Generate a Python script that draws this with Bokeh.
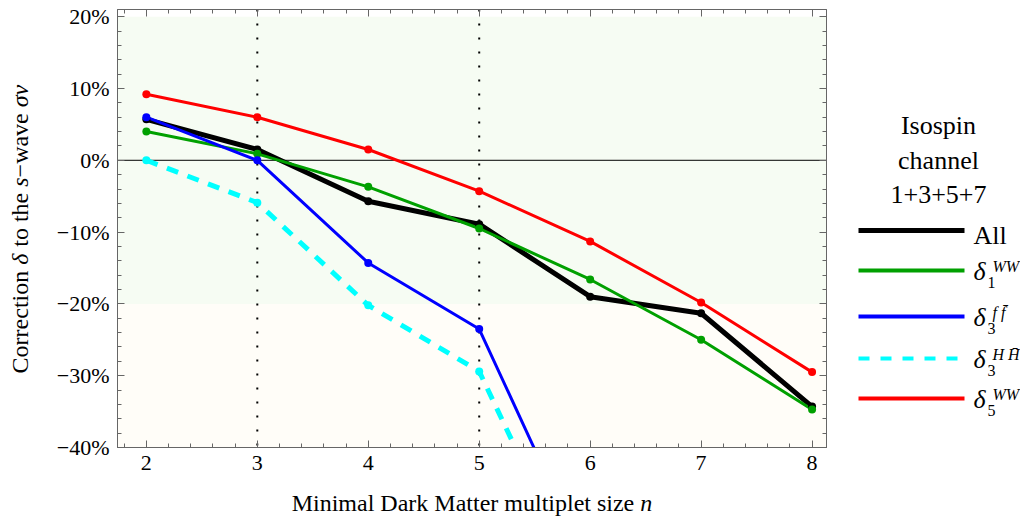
from math import pi
from bokeh.plotting import figure
from bokeh.models import Range1d, LinearAxis, BoxAnnotation, Span, FixedTicker
from bokeh.layouts import row, column
from bokeh.embed import file_html
from bokeh.resources import INLINE
from bokeh.core.properties import value

# ---------------- data ----------------
n_full = [2, 3, 4, 5, 6, 7, 8]
n_short = [2, 3, 4, 5, 6]
all_channels = [5.7, 1.5, -5.7, -8.9, -19.0, -21.3, -34.3]
delta1_WW = [4.0, 0.9, -3.7, -9.5, -16.6, -25.0, -34.7]
delta3_ff = [6.0, 0.0, -14.3, -23.5, -57.0]
delta3_HH = [0.0, -5.9, -20.2, -29.4, -62.0]
delta5_WW = [9.2, 6.0, 1.5, -4.3, -11.3, -19.8, -29.5]

x_ticks = [2, 3, 4, 5, 6, 7, 8]
y_ticks = [-40, -30, -20, -10, 0, 10, 20]
y_tick_labels = ["\u221240%", "\u221230%", "\u221220%", "\u221210%", "0%", "10%", "20%"]
threshold_n = [3, 5]

legend_title = ["Isospin", "channel", "1+3+5+7"]
legend_base = ["All", "\u03b4", "\u03b4", "\u03b4", "\u03b4"]
legend_sub = ["", "1", "3", "3", "5"]
legend_sup = ["", "WW", "f f\u0304", "H H\u0304", "WW"]

ylab_runs = ["Correction", "\u03b4", "to the", "s", "\u2212wave", "\u03c3v"]
ylab_italic = [False, True, False, True, False, True]
ylab_space = [True, True, True, False, True, False]
xlab_runs = ["Minimal Dark Matter multiplet size", "n"]
xlab_italic = [False, True]
xlab_space = [True, False]

# ---------------- layout / styling ----------------
FONT = "Liberation Serif"
W_TOT = 1020
W_YL, W_MAIN = 40, 788
W_LEG = W_TOT - W_YL - W_MAIN
H_TOP, H_XL = 484, 38
XR = (1.74, 8.13)
YR = (-40.0, 21.0)
FL, FT, FR, FB = 117, 9, 826, 447   # frame edges in page pixels
FRAME_COL = "#666666"

series = [
    (n_full, all_channels, "#000000", 5, "solid"),
    (n_full, delta1_WW, "#00a000", 3, "solid"),
    (n_short, delta3_ff, "#0000ff", 3, "solid"),
    (n_short, delta3_HH, "#00ffff", 5, "12 10"),
    (n_full, delta5_WW, "#ff0000", 3, "solid"),
]
legend_widths = [5, 4, 4, 4, 4]
legend_dash = ["solid", "solid", "solid", "11 11", "solid"]

# Times metrics (1/1000 em)
REG = {' ': 250, 'C': 667, 'o': 500, 'r': 333, 'e': 444, 'c': 444, 't': 278, 'i': 278,
       'n': 500, 'h': 500, 'w': 722, 'a': 444, 'v': 500, '\u2212': 564, 'M': 889, 'm': 778,
       'l': 278, 'D': 722, 'k': 500, 'u': 500, 'p': 500, 's': 389, 'z': 444}
ITA = {'\u03b4': 500, '\u03c3': 540, 'v': 444, 's': 389, 'n': 500}


def tw(txt, size, italic):
    tab = ITA if italic else REG
    return sum(tab.get(c, 500) for c in txt) * size / 1000.0


def blank_fig(w, h):
    f = figure(width=w, height=h, x_range=Range1d(0, w), y_range=Range1d(0, h),
               output_backend="svg", toolbar_location=None, min_border=0,
               x_axis_type=None, y_axis_type=None, outline_line_color=None,
               background_fill_color="white", border_fill_color="white",
               frame_align=False)
    f.grid.visible = False
    return f


# ---------------- main plot ----------------
p = figure(width=W_MAIN, height=H_TOP, x_range=Range1d(*XR), y_range=Range1d(*YR),
           output_backend="svg", toolbar_location=None,
           min_border_left=FL - W_YL, min_border_right=W_YL + W_MAIN - FR,
           min_border_top=FT, min_border_bottom=H_TOP - FB,
           background_fill_color="white", border_fill_color="white",
           outline_line_color=FRAME_COL, frame_align=False)
p.grid.visible = False
p.add_layout(LinearAxis(), "above")
p.add_layout(LinearAxis(), "right")

xminor = sorted(set(round(v * 5) / 5 for v in [1.8 + 0.2 * k for k in range(33)]))
yminor = list(range(-40, 22, 2))
for ax in p.xaxis:
    ax.ticker = FixedTicker(ticks=x_ticks, minor_ticks=xminor)
for ax in p.yaxis:
    ax.ticker = FixedTicker(ticks=y_ticks, minor_ticks=yminor)
    ax.major_label_overrides = dict(zip(y_ticks, y_tick_labels))

for ax in p.axis:
    ax.axis_line_color = FRAME_COL
    ax.major_tick_line_color = FRAME_COL
    ax.minor_tick_line_color = FRAME_COL
    ax.major_tick_in = 7
    ax.major_tick_out = 0
    ax.minor_tick_in = 4
    ax.minor_tick_out = 0
    ax.major_label_text_font = FONT
    ax.major_label_text_font_size = "22px"
    ax.major_label_text_color = "black"
    ax.major_label_standoff = 8

for ax in p.above + p.right:
    ax.major_label_text_font_size = "1px"
    ax.major_label_text_color = None
    ax.major_label_standoff = 0

p.add_layout(BoxAnnotation(bottom=-20, top=20, fill_color="#f6fcf3", fill_alpha=1,
                           line_color=None, level="underlay"))
p.add_layout(BoxAnnotation(top=-20, fill_color="#fffdf8", fill_alpha=1,
                           line_color=None, level="underlay"))
p.add_layout(Span(location=0, dimension="width", line_color="black", line_width=1,
                  level="underlay"))
for t in threshold_n:
    p.add_layout(Span(location=t, dimension="height", line_color="black", line_width=2,
                      line_dash="2 12", level="underlay"))

for xs, ys, col, lw, dash in series:
    p.line(xs, ys, line_color=col, line_width=lw, line_dash=dash, line_join="round")
for xs, ys, col, lw, dash in series:
    p.scatter(xs, ys, size=8, fill_color=col, line_color=None)

# ---------------- y axis label panel ----------------
YS = 24
yl = blank_fig(W_YL, H_TOP)
total = 0.0
for r, it, sp in zip(ylab_runs, ylab_italic, ylab_space):
    total += tw(r, YS, it) + (tw(' ', YS, False) if sp else 0)
ypos = (FT + FB) / 2 + total / 2      # page y where text starts (bottom)
for r, it, sp in zip(ylab_runs, ylab_italic, ylab_space):
    yl.text(x=[19], y=[H_TOP - ypos], text=[r], angle=pi / 2, text_font=value(FONT),
            text_font_size=f"{YS}px", text_font_style="italic" if it else "normal",
            text_align="left", text_baseline="middle", text_color="black")
    ypos -= tw(r, YS, it) + (tw(' ', YS, False) if sp else 0)

# ---------------- x axis label panel ----------------
xl = blank_fig(W_TOT, H_XL)
total = 0.0
for r, it, sp in zip(xlab_runs, xlab_italic, xlab_space):
    total += tw(r, YS, it) + (tw(' ', YS, False) if sp else 0)
xpos = (FL + FR) / 2 - total / 2
XL_MID = 502
for r, it, sp in zip(xlab_runs, xlab_italic, xlab_space):
    xl.text(x=[xpos], y=[H_TOP + H_XL - XL_MID], text=[r], text_font=value(FONT),
            text_font_size=f"{YS}px", text_font_style="italic" if it else "normal",
            text_align="left", text_baseline="middle", text_color="black")
    xpos += tw(r, YS, it) + (tw(' ', YS, False) if sp else 0)

# ---------------- legend panel ----------------
q = blank_fig(W_LEG, H_TOP)
OX = W_YL + W_MAIN


def lx(px):
    return px - OX


def ly(py):
    return H_TOP - py


title_y = [125, 160, 194]
q.text(x=[lx(938)] * 3, y=[ly(v) for v in title_y], text=legend_title,
       text_font=value(FONT), text_font_size="26px", text_align="center",
       text_baseline="middle", text_color="black")

entry_y = [230, 270, 316, 358, 398]
for i, (xs, ys, col, lw, dash) in enumerate(series):
    yy = ly(entry_y[i])
    q.line([lx(858), lx(964)], [yy, yy], line_color=col, line_width=legend_widths[i],
           line_dash=legend_dash[i])
    if legend_sub[i] == "":
        q.text(x=[lx(973)], y=[ly(entry_y[i] + 5)], text=[legend_base[i]],
               text_font=value(FONT), text_font_size="26px", text_baseline="middle",
               text_color="black")
    else:
        q.text(x=[lx(973)], y=[ly(entry_y[i] + 1)], text=[legend_base[i]],
               text_font=value(FONT), text_font_size="26px", text_font_style="italic",
               text_baseline="middle", text_color="black")
        q.text(x=[lx(987)], y=[ly(entry_y[i] + 12)], text=[legend_sub[i]],
               text_font=value(FONT), text_font_size="16px",
               text_baseline="middle", text_color="black")
        q.text(x=[lx(992)], y=[ly(entry_y[i] - 4)], text=[legend_sup[i]],
               text_font=value(FONT), text_font_size="16px", text_font_style="italic",
               text_baseline="middle", text_color="black")

layout = column(row(yl, p, q), xl)
open("out.html", "w").write(file_html(layout, INLINE))
